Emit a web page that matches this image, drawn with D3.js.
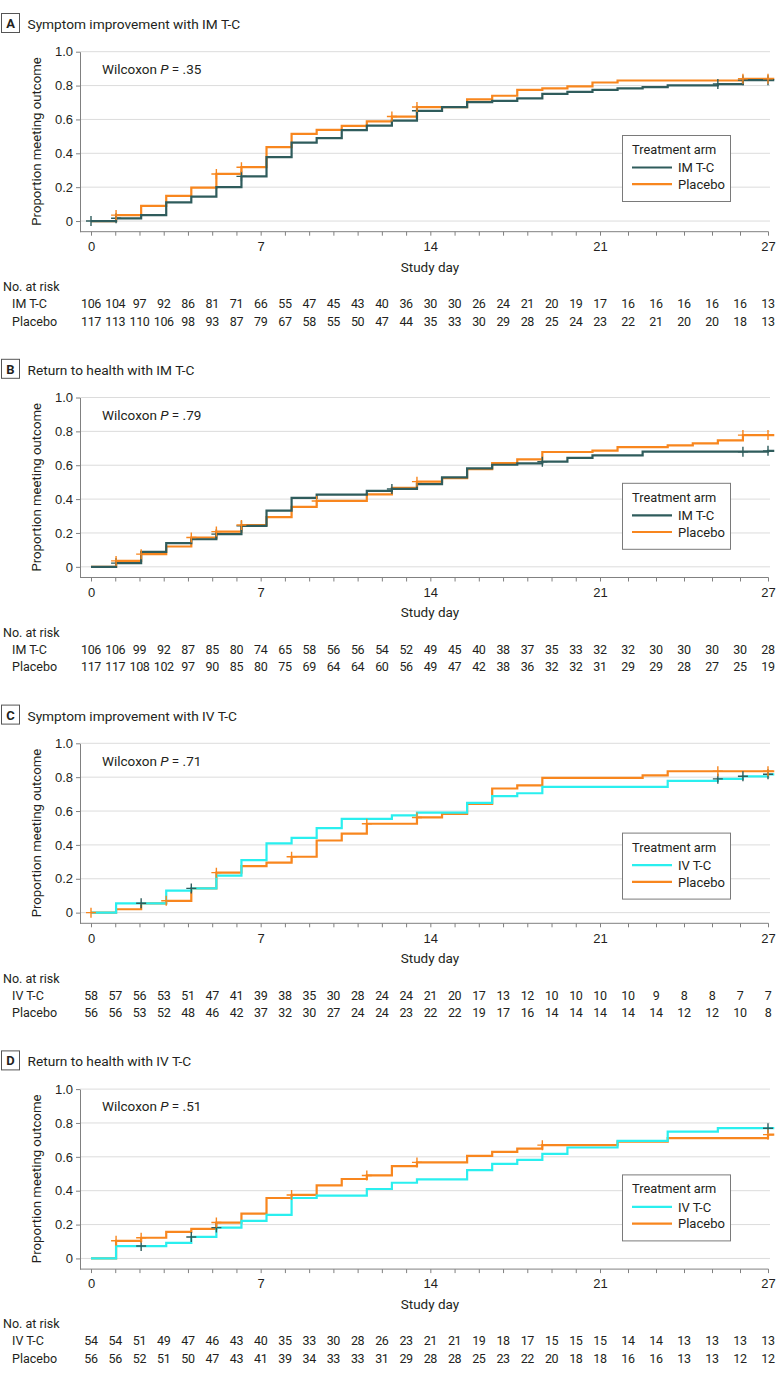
<!DOCTYPE html>
<html>
<head>
<meta charset="utf-8">
<script src="https://cdn.jsdelivr.net/npm/d3@7"></script>
<style>
  body { margin: 0; background: #fff; }
  svg { display: block; font-family: Roboto, "Open Sans", sans-serif; }
  .axis text { font-size: 13px; fill: #231f20; }
  .axis line, .axis path { stroke: #808080; }
</style>
</head>
<body>
<script>
// Days on the time axis and labelled ticks
const days = [0, 1, 2, 3, 4, 5, 6, 7, 8, 9, 10, 11, 12, 13, 14, 15, 16, 17, 18, 19, 20, 21, 22, 23, 24, 25, 26, 27];
const xTickLabels = [0, 7, 14, 21, 27];
const yTicks = [0, 0.2, 0.4, 0.6, 0.8, 1.0];

// Panel A: symptom improvement with IM T-C
const aImTc = [0, 0.016, 0.035, 0.11, 0.144, 0.20, 0.264, 0.377, 0.463, 0.49, 0.537, 0.564, 0.593, 0.651, 0.673, 0.702, 0.710, 0.724, 0.751, 0.763, 0.775, 0.783, 0.791, 0.801, 0.801, 0.809, 0.832, 0.832];
const aPlacebo = [0, 0.035, 0.089, 0.148, 0.197, 0.278, 0.318, 0.436, 0.515, 0.538, 0.562, 0.588, 0.617, 0.673, 0.673, 0.718, 0.740, 0.775, 0.783, 0.795, 0.818, 0.830, 0.830, 0.830, 0.830, 0.830, 0.840, 0.840];
const aImTcCens = [0, 1, 6, 13, 25, 26, 27];
const aPlaceboCens = [1, 5, 6, 12, 13, 26, 27];
const aRiskImTc = [106, 104, 97, 92, 86, 81, 71, 66, 55, 47, 45, 43, 40, 36, 30, 30, 26, 24, 21, 20, 19, 17, 16, 16, 16, 16, 16, 13];
const aRiskPlacebo = [117, 113, 110, 106, 98, 93, 87, 79, 67, 58, 55, 50, 47, 44, 35, 33, 30, 29, 28, 25, 24, 23, 22, 21, 20, 20, 18, 13];

// Panel B: return to health with IM T-C
const bImTc = [0, 0.022, 0.088, 0.14, 0.163, 0.193, 0.242, 0.332, 0.407, 0.426, 0.426, 0.448, 0.460, 0.488, 0.528, 0.582, 0.603, 0.611, 0.621, 0.644, 0.658, 0.658, 0.680, 0.680, 0.680, 0.680, 0.680, 0.685];
const bPlacebo = [0, 0.035, 0.075, 0.12, 0.173, 0.208, 0.247, 0.293, 0.354, 0.389, 0.389, 0.428, 0.467, 0.503, 0.524, 0.577, 0.613, 0.635, 0.678, 0.678, 0.686, 0.707, 0.707, 0.717, 0.729, 0.747, 0.778, 0.778];
const bImTcCens = [1, 5, 6, 12, 18, 26, 27];
const bPlaceboCens = [1, 2, 4, 5, 6, 9, 13, 26, 27];
const bRiskImTc = [106, 106, 99, 92, 87, 85, 80, 74, 65, 58, 56, 56, 54, 52, 49, 45, 40, 38, 37, 35, 33, 32, 32, 30, 30, 30, 30, 28];
const bRiskPlacebo = [117, 117, 108, 102, 97, 90, 85, 80, 75, 69, 64, 64, 60, 56, 49, 47, 42, 38, 36, 32, 32, 31, 29, 29, 28, 27, 25, 19];

// Panel C: symptom improvement with IV T-C
const cIvTc = [0, 0.055, 0.055, 0.13, 0.143, 0.218, 0.31, 0.409, 0.442, 0.499, 0.554, 0.554, 0.574, 0.591, 0.591, 0.648, 0.688, 0.705, 0.743, 0.743, 0.743, 0.743, 0.743, 0.778, 0.778, 0.790, 0.805, 0.817];
const cPlacebo = [0, 0.02, 0.055, 0.07, 0.143, 0.236, 0.275, 0.295, 0.33, 0.426, 0.466, 0.525, 0.525, 0.562, 0.583, 0.642, 0.733, 0.752, 0.796, 0.796, 0.796, 0.796, 0.811, 0.835, 0.835, 0.835, 0.835, 0.835];
const cIvTcCens = [2, 4, 25, 26, 27];
const cPlaceboCens = [0, 3, 5, 8, 11, 13, 25, 27];
const cRiskIvTc = [58, 57, 56, 53, 51, 47, 41, 39, 38, 35, 30, 28, 24, 24, 21, 20, 17, 13, 12, 10, 10, 10, 10, 9, 8, 8, 7, 7];
const cRiskPlacebo = [56, 56, 53, 52, 48, 46, 42, 37, 32, 30, 27, 24, 24, 23, 22, 22, 19, 17, 16, 14, 14, 14, 14, 14, 12, 12, 10, 8];

// Panel D: return to health with IV T-C
const dIvTc = [0, 0.073, 0.073, 0.092, 0.127, 0.182, 0.222, 0.257, 0.357, 0.371, 0.371, 0.41, 0.447, 0.467, 0.467, 0.522, 0.559, 0.582, 0.618, 0.655, 0.655, 0.694, 0.694, 0.749, 0.749, 0.769, 0.769, 0.769];
const dPlacebo = [0, 0.104, 0.122, 0.157, 0.175, 0.212, 0.265, 0.357, 0.375, 0.431, 0.469, 0.49, 0.545, 0.567, 0.567, 0.606, 0.629, 0.649, 0.669, 0.669, 0.669, 0.69, 0.69, 0.71, 0.71, 0.71, 0.71, 0.731];
const dIvTcCens = [2, 4, 5, 27];
const dPlaceboCens = [1, 2, 5, 8, 11, 13, 18, 27];
const dRiskIvTc = [54, 54, 51, 49, 47, 46, 43, 40, 35, 33, 30, 28, 26, 23, 21, 21, 19, 18, 17, 15, 15, 15, 14, 14, 13, 13, 13, 13];
const dRiskPlacebo = [56, 56, 52, 51, 50, 47, 43, 41, 39, 34, 33, 33, 31, 29, 28, 28, 25, 23, 22, 20, 18, 18, 16, 16, 13, 13, 12, 12];

const COLORS = { imtc: "#2f5c5c", ivtc: "#2aefef", placebo: "#f8861e", ink: "#231f20" };

const panels = [
    { letter: "A", title: "Symptom improvement with IM T-C", p: ".35", arm: "IM T-C", color: COLORS.imtc, censColor: COLORS.imtc,
      treat: aImTc, plac: aPlacebo, treatCens: aImTcCens, placCens: aPlaceboCens, riskTreat: aRiskImTc, riskPlac: aRiskPlacebo, legendTop: 135 },
    { letter: "B", title: "Return to health with IM T-C", p: ".79", arm: "IM T-C", color: COLORS.imtc, censColor: COLORS.imtc,
      treat: bImTc, plac: bPlacebo, treatCens: bImTcCens, placCens: bPlaceboCens, riskTreat: bRiskImTc, riskPlac: bRiskPlacebo, legendTop: 137 },
    { letter: "C", title: "Symptom improvement with IV T-C", p: ".71", arm: "IV T-C", color: COLORS.ivtc, censColor: COLORS.imtc,
      treat: cIvTc, plac: cPlacebo, treatCens: cIvTcCens, placCens: cPlaceboCens, riskTreat: cRiskIvTc, riskPlac: cRiskPlacebo, legendTop: 141 },
    { letter: "D", title: "Return to health with IV T-C", p: ".51", arm: "IV T-C", color: COLORS.ivtc, censColor: COLORS.imtc,
      treat: dIvTc, plac: dPlacebo, treatCens: dIvTcCens, placCens: dPlaceboCens, riskTreat: dRiskIvTc, riskPlac: dRiskPlacebo, legendTop: 137 }
];

const WIDTH = 780, HEIGHT = 1376, PANEL_STEP = 345.8;
const AXIS_X = 80, AXIS_Y = 231.7;

// curves use a linear day scale; the printed ticks and risk table follow the axis as drawn
const xCurve = d3.scaleLinear().domain([0, 27]).range([91, 768]);
const xTick = d3.scaleLinear().domain([0, 21, 27]).range([91, 600, 768]);
const y = d3.scaleLinear().domain([-0.063, 1]).range([AXIS_Y, 51.7]);

const line = d3.line()
    .x(d => xCurve(d[0]))
    .y(d => y(d[1]))
    .curve(d3.curveStepAfter);

const svg = d3.select("body").append("svg")
    .attr("width", WIDTH)
    .attr("height", HEIGHT)
    .attr("viewBox", `0 0 ${WIDTH} ${HEIGHT}`);

function stepPoints(values) {
    const pts = days.map(d => [d, values[d]]);
    pts.push([27.25, values[values.length - 1]]);
    return pts;
}

function drawPanel(panel, i) {
    const g = svg.append("g").attr("transform", `translate(0,${i * PANEL_STEP})`);

    // panel letter and title
    g.append("rect")
        .attr("x", 1.5).attr("y", 13.5).attr("width", 18).attr("height", 19)
        .attr("fill", "none").attr("stroke", "#555").attr("stroke-width", 1);
    g.append("text")
        .attr("x", 10.5).attr("y", 28)
        .attr("text-anchor", "middle")
        .attr("font-size", 13).attr("font-weight", 700).attr("fill", COLORS.ink)
        .text(panel.letter);
    g.append("text")
        .attr("x", 27.5).attr("y", 29)
        .attr("font-size", 13.7).attr("fill", COLORS.ink)
        .text(panel.title);

    // gridlines
    g.append("g").selectAll("line")
        .data(yTicks)
        .join("line")
        .attr("x1", AXIS_X).attr("x2", 770)
        .attr("y1", d => y(d)).attr("y2", d => y(d))
        .attr("stroke", "#dcdcdc").attr("stroke-width", 1);

    // y axis
    g.append("g")
        .attr("class", "axis")
        .attr("transform", `translate(${AXIS_X},0)`)
        .call(d3.axisLeft(y).tickValues(yTicks).tickSize(4).tickSizeOuter(0).tickPadding(3)
            .tickFormat(d => d === 0 ? "0" : d3.format(".1f")(d)))
        .call(a => a.selectAll("text").attr("font-size", 13.5));

    g.append("text")
        .attr("transform", `translate(41,${y(0.47)}) rotate(-90)`)
        .attr("text-anchor", "middle")
        .attr("font-size", 13.2).attr("fill", COLORS.ink)
        .text("Proportion meeting outcome");

    // x axis
    const xAxis = g.append("g")
        .attr("class", "axis")
        .attr("transform", `translate(0,${AXIS_Y})`)
        .call(d3.axisBottom(xTick).tickValues(days).tickSize(4).tickSizeOuter(0).tickPadding(6)
            .tickFormat(d => xTickLabels.includes(d) ? d : ""));
    xAxis.select(".domain").remove();
    xAxis.selectAll("text").attr("font-size", 13.5);
    g.append("line")
        .attr("x1", AXIS_X).attr("x2", 768.5)
        .attr("y1", AXIS_Y).attr("y2", AXIS_Y)
        .attr("stroke", "#808080");

    g.append("text")
        .attr("x", 430).attr("y", 271.5)
        .attr("text-anchor", "middle")
        .attr("font-size", 13.5).attr("fill", COLORS.ink)
        .text("Study day");

    // Wilcoxon annotation
    const w = g.append("text")
        .attr("x", 102).attr("y", 74)
        .attr("font-size", 13.5).attr("fill", COLORS.ink);
    w.append("tspan").text("Wilcoxon ");
    w.append("tspan").attr("font-style", "italic").text("P");
    w.append("tspan").text(" = " + panel.p);

    // survival curves
    const curves = g.append("g").attr("fill", "none").attr("stroke-width", 2.2);
    curves.append("path")
        .attr("d", line(stepPoints(panel.plac)))
        .attr("stroke", COLORS.placebo);
    curves.append("path")
        .attr("d", line(stepPoints(panel.treat)))
        .attr("stroke", panel.color);

    // censoring marks
    const addCens = (cens, values, color) => {
        g.append("g").selectAll("path")
            .data(cens)
            .join("path")
            .attr("d", d => {
                const cx = xCurve(d), cy = y(values[d]);
                return `M${cx - 5},${cy}H${cx + 5}M${cx},${cy - 5}V${cy + 5}`;
            })
            .attr("stroke", color)
            .attr("stroke-width", 1.4);
    };
    addCens(panel.treatCens, panel.treat, panel.censColor);
    addCens(panel.placCens, panel.plac, COLORS.placebo);

    // legend
    const lg = g.append("g").attr("transform", `translate(622,${panel.legendTop})`);
    lg.append("rect")
        .attr("x", 0.5).attr("y", 0.5).attr("width", 108).attr("height", 66)
        .attr("fill", "#fff").attr("stroke", "#7a7a7a");
    lg.append("text")
        .attr("x", 10).attr("y", 19)
        .attr("font-size", 12.8).attr("fill", COLORS.ink)
        .text("Treatment arm");
    const entries = [
        { label: panel.arm, color: panel.color },
        { label: "Placebo", color: COLORS.placebo }
    ];
    entries.forEach((e, k) => {
        const ly = 32.5 + k * 16.7;
        lg.append("line")
            .attr("x1", 10).attr("x2", 50)
            .attr("y1", ly).attr("y2", ly)
            .attr("stroke", e.color).attr("stroke-width", 2.2);
        lg.append("text")
            .attr("x", 56).attr("y", ly + 4.8)
            .attr("font-size", 13).attr("fill", COLORS.ink)
            .text(e.label);
    });

    // number at risk table
    g.append("text")
        .attr("x", 3).attr("y", 291)
        .attr("font-size", 12.5).attr("fill", COLORS.ink)
        .text("No. at risk");
    const rows = [
        { label: panel.arm, values: panel.riskTreat, y: 308 },
        { label: "Placebo", values: panel.riskPlac, y: 325.5 }
    ];
    rows.forEach(r => {
        g.append("text")
            .attr("x", 12).attr("y", r.y)
            .attr("font-size", 12.5).attr("fill", COLORS.ink)
            .text(r.label);
        g.append("g").selectAll("text")
            .data(days)
            .join("text")
            .attr("x", d => xTick(d))
            .attr("y", r.y)
            .attr("text-anchor", "middle")
            .attr("font-size", 12.5).attr("fill", COLORS.ink)
            .attr("letter-spacing", -0.4)
            .text(d => r.values[d]);
    });
}

panels.forEach(drawPanel);
</script>
</body>
</html>
